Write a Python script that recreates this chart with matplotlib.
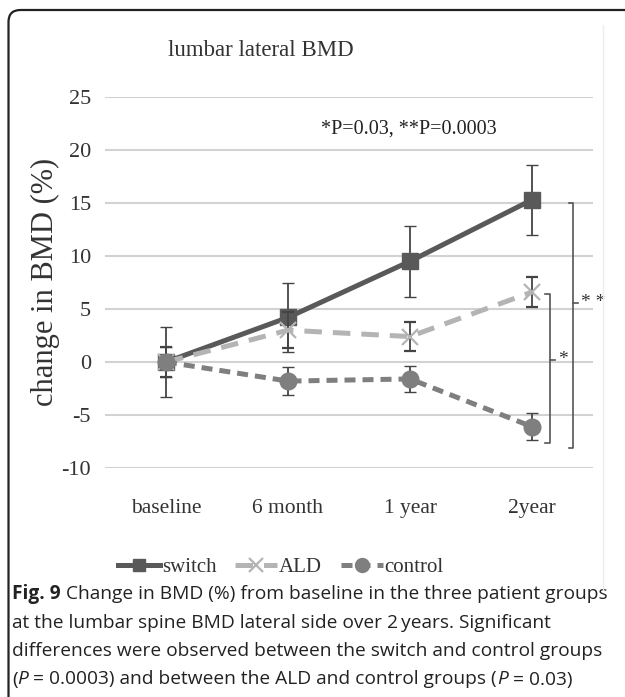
import matplotlib.pyplot as plt
from matplotlib.patches import FancyBboxPatch
from matplotlib.lines import Line2D

# data
timepoints = ["baseline", "6 month", "1 year", "2year"]
switch_mean = [0.0, 4.2, 9.5, 15.3]
switch_err = [3.3, 3.3, 3.35, 3.3]
ald_mean = [0.0, 3.0, 2.4, 6.6]
ald_err = [1.4, 1.7, 1.4, 1.45]
control_mean = [0.0, -1.8, -1.6, -6.1]
control_err = [1.4, 1.3, 1.25, 1.3]
yticks = [-10, -5, 0, 5, 10, 15, 20, 25]

serif = "Liberation Serif"
txt_col = "#333333"
fig = plt.figure(figsize=(6.25, 6.97), dpi=100)

# outer rounded frame (only left/top visible)
frame = FancyBboxPatch((0.085, -1.0), 8.0, 7.87, boxstyle="round,pad=0,rounding_size=0.12",
                       transform=fig.dpi_scale_trans, fill=False, lw=1.6, ec="#222222")
fig.patches.append(frame)
fig.add_artist(Line2D([603 / 625, 603 / 625], [1 - 25 / 697, 1 - 590 / 697],
                      transform=fig.transFigure, color="#ededed", lw=1))

ax = fig.add_axes([105 / 625, 1 - 468 / 697, 488 / 625, 371 / 697])
x = list(range(len(timepoints)))

styles = {
    "switch": dict(color="#595959", ls="-", marker="s", ms=11, mew=1),
    "ALD": dict(color="#b4b4b4", ls=(0, (3.5, 2.2)), marker="x", ms=12, mew=1.6),
    "control": dict(color="#7f7f7f", ls=(0, (2.2, 1.4)), marker="o", ms=12, mew=1),
}
series = [("switch", switch_mean, switch_err, 3), ("ALD", ald_mean, ald_err, 4),
          ("control", control_mean, control_err, 5)]
for name, mean, err, z in series:
    ax.errorbar(x, mean, yerr=err, lw=3.6, ecolor="#444444", elinewidth=1.3, capsize=4,
                capthick=1.3, zorder=z, **styles[name])

ax.set_xlim(-0.5, 3.5)
ax.set_ylim(-10, 25)
ax.set_yticks(yticks)
ax.set_xticks(x)
ax.set_xticklabels(timepoints, fontfamily=serif, fontsize=15.5)
ax.set_yticklabels([str(v) for v in yticks], fontfamily=serif, fontsize=16)
ax.tick_params(length=0, colors=txt_col)
ax.tick_params(axis="y", pad=10)
ax.tick_params(axis="x", pad=22)
ax.grid(axis="y", color="#d2d2d2", lw=1.5)
ax.set_axisbelow(True)
for s in ax.spines.values():
    s.set_visible(False)

# significance brackets
bc = "#555555"
ax.plot([3.11, 3.15, 3.15, 3.11], [6.4, 6.4, -7.6, -7.6], color=bc, lw=1.2, clip_on=False)
ax.plot([3.15, 3.19], [0.2, 0.2], color=bc, lw=1.2, clip_on=False)
ax.text(3.25, 0.2, "*", fontfamily=serif, fontsize=14, color=txt_col, ha="center", va="center")
ax.plot([3.30, 3.34, 3.34, 3.30], [15.0, 15.0, -8.1, -8.1], color=bc, lw=1.2, clip_on=False)
ax.plot([3.34, 3.38], [5.6, 5.6], color=bc, lw=1.2, clip_on=False)
ax.text(3.5, 5.6, "* *", fontfamily=serif, fontsize=14, color=txt_col, ha="center",
        va="center", clip_on=False)

ax.text(1.99, 22.0, "*P=0.03, **P=0.0003", fontfamily=serif, fontsize=14.5, color="#222222",
        ha="center", va="center")

fig.text(261 / 625, 1 - 50 / 697, "lumbar lateral BMD", fontfamily=serif, fontsize=16.5,
         color=txt_col, ha="center", va="center")
fig.text(45 / 625, 1 - 282 / 697, "change in BMD (%)", fontfamily=serif, fontsize=22,
         color=txt_col, ha="center", va="center", rotation=90)

handles = []
for name, _, _, _ in series:
    st = dict(styles[name])
    st["ms"] = st["ms"] - 2
    handles.append(Line2D([], [], lw=3.6, **st))
fig.legend(handles, [name for name, _, _, _ in series], loc="center",
           bbox_to_anchor=(281 / 625, 1 - 567 / 697), ncol=3, frameon=False,
           prop={"family": serif, "size": 15}, handlelength=2.0, handletextpad=0.1,
           columnspacing=0.9, labelcolor=txt_col)

# caption
cs = 13.8
y0 = 1 - 594 / 697
dy = 28.5 / 697
cc = "#222222"
t = fig.text(12 / 625, y0, "Fig. 9", family="Open Sans", size=cs, weight="bold",
             va="center", color=cc)
ax.annotate(" Change in BMD (%) from baseline in the three patient groups", xy=(1, 0.5),
            xycoords=t, va="center", ha="left", fontfamily="Open Sans", fontsize=cs,
            color=cc, annotation_clip=False)
fig.text(12 / 625, y0 - dy, "at the lumbar spine BMD lateral side over 2\u2009years. Significant",
         fontfamily=["Open Sans", "DejaVu Sans"], fontsize=cs, va="center", color=cc)
fig.text(12 / 625, y0 - 2 * dy, "differences were observed between the switch and control groups",
         family="Open Sans", size=cs, va="center", color=cc)
prev = fig.text(12 / 625, y0 - 3 * dy, "(", family="Open Sans", size=cs, va="center", color=cc)
pieces = [("P", "italic"), (" = 0.0003) and between the ALD and control groups (", "normal"),
          ("P", "italic"), (" = 0.03)", "normal")]
for txt, st in pieces:
    prev = ax.annotate(txt, xy=(1, 0.5), xycoords=prev, va="center", ha="left",
                       fontfamily="Open Sans", fontsize=cs, fontstyle=st, color=cc,
                       annotation_clip=False)

fig.savefig("out.png", dpi=100)
